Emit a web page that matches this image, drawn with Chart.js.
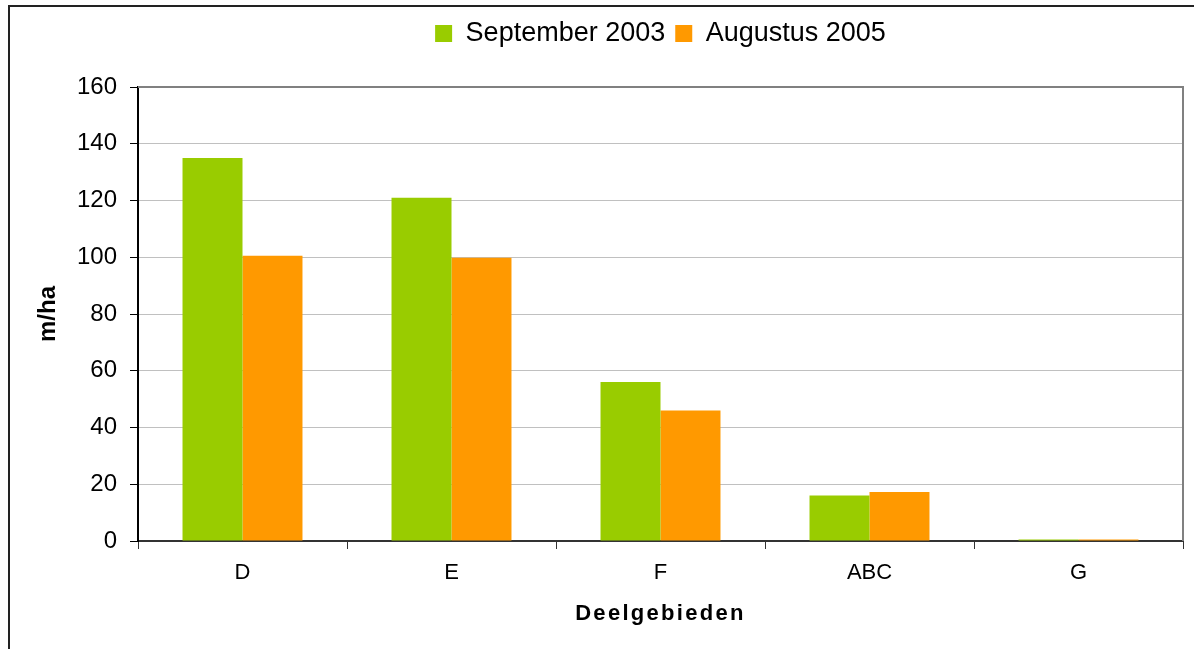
<!DOCTYPE html>
<html>
<head>
<meta charset="utf-8">
<script src="https://cdn.jsdelivr.net/npm/chart.js@4"></script>
<style>
  html, body { margin: 0; padding: 0; background: #fff; }
  #wrap { width: 1194px; height: 649px; position: relative; }
</style>
</head>
<body>
<div id="wrap"><canvas id="chart"></canvas></div>
<script>
const categories = ['D', 'E', 'F', 'ABC', 'G'];
const sept2003 = [135, 121, 56, 16, 0.5];
const aug2005 = [100.5, 99.8, 46, 17.3, 0.5];
const yTicks = [0, 20, 40, 60, 80, 100, 120, 140, 160];

const FONT = "'Liberation Sans', Arial, sans-serif";

// frame of the picture, grey plot border, legend placed over the plot
const framePlugin = {
  id: 'frame',
  afterLayout(chart) {
    const lg = chart.legend;
    const area = chart.chartArea;
    const dx = (area.left + area.right) / 2 - (lg.left + lg.right) / 2;
    const dy = 10 - lg.top;
    lg.left += dx;
    lg.right += dx;
    lg.top += dy;
    lg.bottom += dy;

    // x title is drawn letter-spaced
    const xs = chart.scales.x;
    if (!xs._spaced) {
      const orig = xs.drawTitle;
      xs.drawTitle = function () {
        this.ctx.save();
        this.ctx.letterSpacing = '2.3px';
        orig.apply(this, arguments);
        this.ctx.restore();
      };
      xs._spaced = true;
    }
  },
  beforeDraw(chart) {
    const ctx = chart.ctx;
    ctx.save();
    ctx.fillStyle = '#fff';
    ctx.fillRect(0, 0, chart.width, chart.height);
    ctx.fillStyle = '#222';
    ctx.fillRect(8, 5, 2, chart.height - 5);
    ctx.fillRect(8, 5, chart.width - 8, 2);
    ctx.restore();
  },
  afterDatasetsDraw(chart) {
    const { ctx, chartArea } = chart;
    ctx.save();
    ctx.strokeStyle = '#808080';
    ctx.lineWidth = 2;
    ctx.beginPath();
    ctx.moveTo(chartArea.left, chartArea.top);
    ctx.lineTo(chartArea.right, chartArea.top);
    ctx.lineTo(chartArea.right, chartArea.bottom);
    ctx.stroke();
    ctx.restore();
  }
};

new Chart(document.getElementById('chart'), {
  type: 'bar',
  data: {
    labels: categories,
    datasets: [
      {
        label: 'September 2003',
        data: sept2003,
        backgroundColor: '#99CC00',
        categoryPercentage: 0.574,
        barPercentage: 1.0,
      },
      {
        label: 'Augustus 2005',
        data: aug2005,
        backgroundColor: '#FF9900',
        categoryPercentage: 0.574,
        barPercentage: 1.0,
      },
    ],
  },
  options: {
    responsive: true,
    maintainAspectRatio: false,
    animation: false,
    layout: {
      padding: { top: 10, left: 0, right: 11, bottom: 0 },
    },
    plugins: {
      tooltip: { enabled: false },
      legend: {
        position: 'top',
        labels: {
          boxWidth: 17,
          boxHeight: 17,
          padding: 10,
          color: '#000',
          font: { family: FONT, size: 27 },
        },
      },
    },
    scales: {
      x: {
        grid: {
          display: true,
          drawOnChartArea: false,
          drawTicks: true,
          tickLength: 8,
          tickColor: '#333',
          offset: true,
        },
        border: { color: '#333', width: 2 },
        ticks: {
          color: '#000',
          padding: 11,
          font: { family: FONT, size: 22 },
        },
        title: {
          display: true,
          text: 'Deelgebieden',
          color: '#000',
          padding: { top: 0, bottom: 22 },
          font: { family: FONT, size: 22, weight: 'bold' },
        },
        afterFit(scale) {
          scale.height = 108;
        },
      },
      y: {
        min: 0,
        max: 160,
        afterBuildTicks(scale) {
          scale.ticks = yTicks.map(v => ({ value: v }));
        },
        grid: {
          color: '#C0C0C0',
          lineWidth: 1,
          drawTicks: true,
          tickLength: 8,
          tickColor: '#000',
        },
        border: { color: '#000', width: 2 },
        ticks: {
          color: '#000',
          padding: 13,
          font: { family: FONT, size: 24 },
        },
        title: {
          display: true,
          text: 'm/ha',
          color: '#000',
          padding: { top: 34, bottom: 0 },
          font: { family: FONT, size: 24, weight: 'bold' },
        },
        afterFit(scale) {
          scale.width = 138;
          scale.paddingTop = 87;
        },
      },
    },
  },
  plugins: [framePlugin],
});
</script>
</body>
</html>
